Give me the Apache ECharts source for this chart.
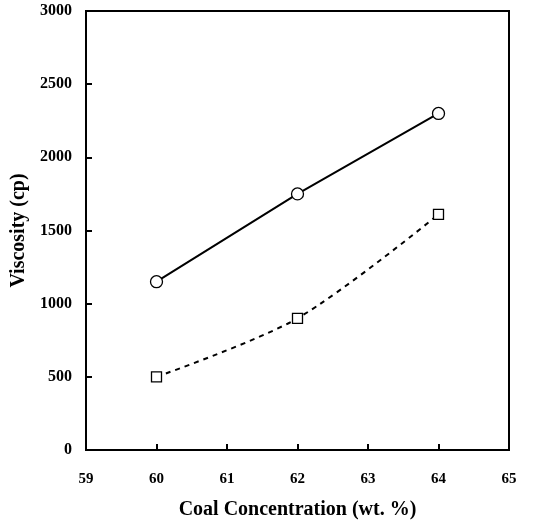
<!DOCTYPE html>
<html><head><meta charset="utf-8">
<script src="https://cdn.jsdelivr.net/npm/echarts@6/dist/echarts.min.js"></script>
<style>html,body{margin:0;padding:0;background:#fff}#c{width:544px;height:522px}</style>
</head><body><div id="c"></div>
<script>
var concentration = [60, 62, 64];
var viscosityCircle = [1150, 1750, 2300];
var viscositySquare = [500, 900, 1610];
var xTicks = [59, 60, 61, 62, 63, 64, 65];
var yTicks = [0, 500, 1000, 1500, 2000, 2500, 3000];

var chart = echarts.init(document.getElementById('c'));
var font = 'Liberation Serif';
function pairs(xs, ys){ return xs.map(function(x,i){return [x, ys[i]];}); }
chart.setOption({
  animation: false,
  backgroundColor: '#fff',
  grid: {left: 86, right: 35, top: 11, bottom: 72, outerBoundsMode: 'none', containLabel: false,
    show: true, borderColor: '#000', borderWidth: 2, backgroundColor: 'transparent'},
  xAxis: {
    type: 'value', min: xTicks[0], max: xTicks[xTicks.length-1], interval: 1,
    name: 'Coal Concentration (wt. %)', nameLocation: 'middle', nameGap: 50,
    nameTextStyle: {fontFamily: font, fontWeight: 'bold', fontSize: 20, color: '#000'},
    axisLine: {lineStyle: {color: '#000', width: 2}},
    axisTick: {inside: true, length: 6, lineStyle: {color: '#000', width: 2}},
    axisLabel: {fontFamily: font, fontWeight: 'bold', fontSize: 15, color: '#000', margin: 22,
      formatter: function(v){ return String(v); }},
    splitLine: {show: false}
  },
  yAxis: {
    type: 'value', min: yTicks[0], max: yTicks[yTicks.length-1], interval: 500,
    name: 'Viscosity (cp)', nameLocation: 'middle', nameGap: 54, nameRotate: 90,
    nameTextStyle: {fontFamily: font, fontWeight: 'bold', fontSize: 20, color: '#000'},
    axisLine: {lineStyle: {color: '#000', width: 2}},
    axisTick: {inside: true, length: 6, lineStyle: {color: '#000', width: 2}},
    axisLabel: {fontFamily: font, fontWeight: 'bold', fontSize: 16, color: '#000', margin: 14,
      formatter: function(v){ return String(v); }},
    splitLine: {show: false}
  },
  series: [
    {
      type: 'line', data: pairs(concentration, viscosityCircle),
      symbol: 'circle', symbolSize: 12,
      lineStyle: {color: '#000', width: 2},
      itemStyle: {color: '#fff', borderColor: '#000', borderWidth: 1.3}
    },
    {
      type: 'line', data: pairs(concentration, viscositySquare), smooth: 0.3,
      symbol: 'rect', symbolSize: 10,
      lineStyle: {color: '#000', width: 2, type: [5, 5]},
      itemStyle: {color: '#fff', borderColor: '#000', borderWidth: 1.3}
    }
  ]
});
</script></body></html>
